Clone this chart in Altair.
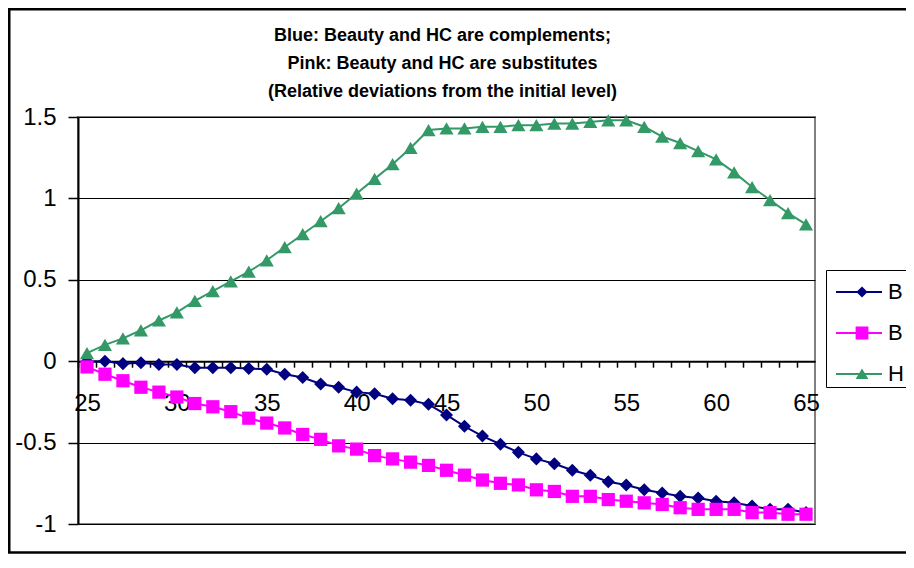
import altair as alt
import pandas as pd

FONT = "Liberation Sans"

ages = list(range(25, 66))
b_complements = [0.00, 0.00, -0.015, -0.01, -0.02, -0.02, -0.04, -0.04, -0.04, -0.045,
                 -0.05, -0.08, -0.10, -0.14, -0.16, -0.19, -0.20, -0.23, -0.24, -0.265,
                 -0.33, -0.40, -0.46, -0.51, -0.56, -0.60, -0.63, -0.67, -0.70, -0.74,
                 -0.76, -0.79, -0.81, -0.83, -0.84, -0.86, -0.87, -0.89, -0.91, -0.91,
                 -0.93]
b_substitutes = [-0.035, -0.08, -0.12, -0.16, -0.19, -0.22, -0.26, -0.28, -0.31, -0.35,
                 -0.38, -0.41, -0.45, -0.48, -0.52, -0.54, -0.58, -0.60, -0.62, -0.64,
                 -0.67, -0.70, -0.73, -0.75, -0.76, -0.79, -0.80, -0.83, -0.83, -0.85,
                 -0.86, -0.87, -0.88, -0.90, -0.91, -0.91, -0.91, -0.93, -0.93, -0.94,
                 -0.94]
hc = [0.05, 0.10, 0.14, 0.19, 0.25, 0.30, 0.37, 0.43, 0.49, 0.55,
      0.62, 0.70, 0.78, 0.86, 0.94, 1.03, 1.12, 1.21, 1.31, 1.42,
      1.43, 1.43, 1.44, 1.44, 1.45, 1.45, 1.46, 1.46, 1.47, 1.48,
      1.48, 1.44, 1.38, 1.34, 1.29, 1.24, 1.16, 1.07, 0.99, 0.91,
      0.84]

series_keys = ["B1", "B2", "H"]
series_colors = ["#000080", "#FF00FF", "#339966"]
series_shapes = ["diamond", "square", "triangle-up"]
series_sizes = [170, 175, 200]
legend_paths = [
    "M-1.3,-0.05L1.0,-0.05L1.0,0.05L-1.3,0.05Z M0,-0.28L0.28,0L0,0.28L-0.28,0Z",
    "M-1.3,-0.05L1.0,-0.05L1.0,0.05L-1.3,0.05Z M-0.32,-0.32L0.32,-0.32L0.32,0.32L-0.32,0.32Z",
    "M-1.3,-0.05L1.0,-0.05L1.0,0.05L-1.3,0.05Z M0,-0.27L0.32,0.25L-0.32,0.25Z",
]
title_lines = ["Blue: Beauty and HC are complements;",
               "Pink: Beauty and HC are substitutes",
               "(Relative deviations from the initial level)"]

df = pd.DataFrame({
    "age": ages * 3,
    "value": b_complements + b_substitutes + hc,
    "series": ["B1"] * len(ages) + ["B2"] * len(ages) + ["H"] * len(ages),
})

W, H = 737, 407
half_cat = W / 41 / 2

x_enc = alt.X("age:Q",
              scale=alt.Scale(domain=[24.5, 65.5], nice=False, zero=False),
              axis=alt.Axis(values=ages, tickOffset=-half_cat, labelOffset=half_cat,
                            labelExpr="datum.value % 5 == 0 ? toString(datum.value) : ''",
                            offset=-H * 0.4, title=None, grid=False,
                            domainColor="black", domainWidth=2,
                            tickColor="black", tickWidth=1.5, tickSize=6,
                            labelFontSize=24, labelPadding=24, labelFont=FONT,
                            labelColor="black", labelFlush=False, labelOverlap=False,
                            labelBound=False))
y_enc = alt.Y("value:Q",
              scale=alt.Scale(domain=[-1, 1.5], nice=False, zero=False),
              axis=alt.Axis(values=[-1, -0.5, 0, 0.5, 1, 1.5],
                            labelExpr="toString(datum.value)",
                            title=None, grid=True, gridColor="black", gridWidth=1,
                            domainColor="black", domainWidth=2,
                            tickColor="black", tickSize=10, tickWidth=1.5,
                            labelFontSize=24, labelPadding=12, labelFont=FONT,
                            labelColor="black"))

one = pd.DataFrame({"k": [0]})
frame = alt.Chart(one).mark_rect(
    fillOpacity=0, stroke="black", strokeWidth=2.5
).encode(x=alt.value(-68.75), x2=alt.value(W + 130),
         y=alt.value(-107.75), y2=alt.value(H + 28.5))

layers = [frame]
for i, line in enumerate(title_lines):
    layers.append(alt.Chart(one).mark_text(
        font=FONT, fontSize=18, fontWeight="bold", color="black",
        align="center", baseline="alphabetic"
    ).encode(x=alt.value(W / 2 - 4), y=alt.value(-76.5 + 28 * i), text=alt.value(line)))

for key, col, shp, sz in zip(series_keys, series_colors, series_shapes, series_sizes):
    base = alt.Chart(df).transform_filter(alt.datum.series == key)
    layers.append(base.mark_line(color=col, strokeWidth=2).encode(x=x_enc, y=y_enc))
    layers.append(base.mark_point(shape=shp, size=sz, filled=True, color=col, opacity=1)
                  .encode(x=x_enc, y=y_enc))

legend_common = dict(
    orient="none", legendX=748, legendY=153, title=None,
    symbolSize=1600, symbolStrokeWidth=0, symbolOpacity=1,
    labelFontSize=22, labelFont=FONT, labelColor="black",
    labelExpr="slice(datum.label, 0, 1) + '\u00a0\u00a0\u00a0\u00a0\u00a0\u00a0'",
    labelLimit=400,
    strokeColor="black", fillColor="white", padding=2,
    symbolOffset=14, labelOffset=6, rowPadding=10,
)
legend_layer = alt.Chart(df).mark_point(filled=True, opacity=0).encode(
    x=x_enc, y=y_enc,
    color=alt.Color("series:N", scale=alt.Scale(domain=series_keys, range=series_colors),
                    legend=alt.Legend(**legend_common)),
    shape=alt.Shape("series:N", scale=alt.Scale(domain=series_keys, range=legend_paths),
                    legend=alt.Legend(**legend_common)),
)
layers.append(legend_layer)

chart = alt.layer(*layers).properties(
    width=W, height=H,
    autosize=alt.AutoSizeParams(type="none"),
    padding={"left": 70, "top": 109, "right": 91, "bottom": 30},
    background="white",
).configure_view(stroke="#808080", strokeWidth=2)

chart.save("out.html", embed_options={"renderer": "svg", "actions": False})
